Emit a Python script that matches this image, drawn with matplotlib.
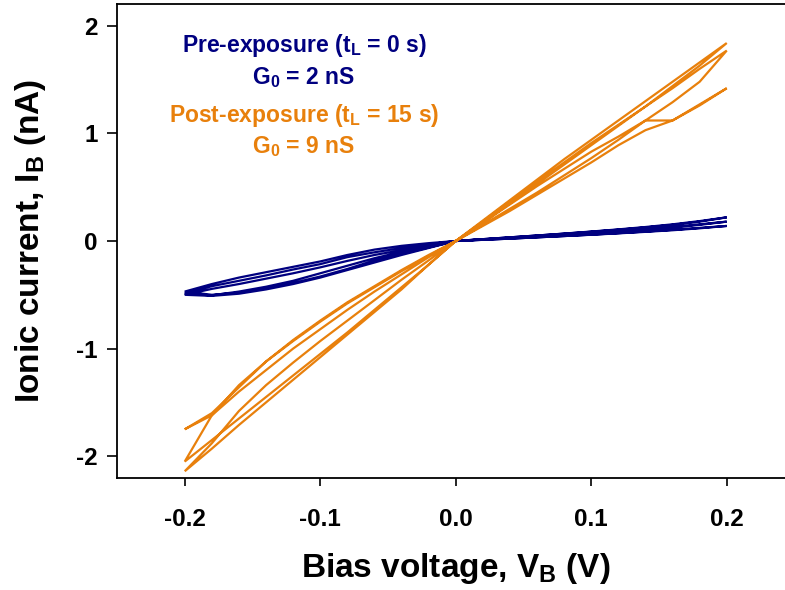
import matplotlib
matplotlib.use("Agg")
import matplotlib.pyplot as plt
import numpy as np

plt.rcParams['font.family'] = ['Liberation Sans', 'DejaVu Sans']
plt.rcParams['font.weight'] = 'bold'
plt.rcParams['mathtext.fontset'] = 'custom'
plt.rcParams['mathtext.rm'] = 'Liberation Sans:bold'
plt.rcParams['mathtext.it'] = 'Liberation Sans:bold'
plt.rcParams['mathtext.bf'] = 'Liberation Sans:bold'

# one voltage cycle: 0 -> 0.2 -> -0.2 -> 0 (V)
v_cycle = [0.00, 0.02, 0.04, 0.06, 0.08, 0.10, 0.12, 0.14, 0.16, 0.18, 0.20,
           0.18, 0.16, 0.14, 0.12, 0.10, 0.08, 0.06, 0.04, 0.02, 0.00,
           -0.02, -0.04, -0.06, -0.08, -0.10, -0.12, -0.14, -0.16, -0.18, -0.20,
           -0.18, -0.16, -0.14, -0.12, -0.10, -0.08, -0.06, -0.04, -0.02, 0.00]

# Pre-exposure currents (nA), three cycles
pre_cycle1 = [0.000, 0.011, 0.022, 0.034, 0.046, 0.058, 0.071, 0.085, 0.100, 0.118, 0.140,
              0.122, 0.104, 0.088, 0.073, 0.059, 0.046, 0.034, 0.022, 0.011, 0.000,
              -0.020, -0.045, -0.080, -0.130, -0.190, -0.240, -0.290, -0.340, -0.400, -0.470,
              -0.500, -0.480, -0.440, -0.390, -0.330, -0.260, -0.180, -0.120, -0.060, 0.000]
pre_cycle2 = [0.000, 0.014, 0.028, 0.042, 0.057, 0.072, 0.088, 0.105, 0.124, 0.150, 0.180,
              0.155, 0.130, 0.110, 0.092, 0.076, 0.060, 0.045, 0.030, 0.015, 0.000,
              -0.030, -0.065, -0.105, -0.150, -0.215, -0.265, -0.320, -0.370, -0.420, -0.490,
              -0.505, -0.470, -0.425, -0.370, -0.300, -0.230, -0.160, -0.100, -0.045, 0.000]
pre_cycle3 = [0.000, 0.017, 0.034, 0.051, 0.068, 0.086, 0.105, 0.126, 0.150, 0.180, 0.220,
              0.185, 0.155, 0.130, 0.108, 0.088, 0.069, 0.051, 0.034, 0.017, 0.000,
              -0.040, -0.085, -0.130, -0.185, -0.245, -0.300, -0.350, -0.400, -0.445, -0.500,
              -0.510, -0.490, -0.450, -0.400, -0.340, -0.270, -0.200, -0.130, -0.065, 0.000]

# Post-exposure currents (nA), three cycles
post_cycle1 = [0.00, 0.19, 0.38, 0.57, 0.76, 0.94, 1.12, 1.30, 1.48, 1.66, 1.84,
               1.63, 1.44, 1.25, 1.07, 0.89, 0.71, 0.53, 0.35, 0.17, 0.00,
               -0.14, -0.28, -0.43, -0.58, -0.75, -0.93, -1.12, -1.34, -1.62, -2.05,
               -1.85, -1.65, -1.45, -1.25, -1.05, -0.85, -0.64, -0.43, -0.22, 0.00]
post_cycle2 = [0.00, 0.15, 0.30, 0.45, 0.61, 0.77, 0.94, 1.12, 1.29, 1.48, 1.77,
               1.60, 1.42, 1.25, 1.08, 0.91, 0.73, 0.55, 0.37, 0.18, 0.00,
               -0.13, -0.27, -0.42, -0.57, -0.74, -0.92, -1.12, -1.36, -1.60, -1.75,
               -1.62, -1.40, -1.20, -1.00, -0.82, -0.64, -0.47, -0.31, -0.15, 0.00]
post_cycle3 = [0.00, 0.17, 0.34, 0.51, 0.67, 0.83, 0.97, 1.12, 1.12, 1.27, 1.42,
               1.26, 1.12, 1.03, 0.89, 0.73, 0.58, 0.43, 0.28, 0.14, 0.00,
               -0.18, -0.36, -0.55, -0.74, -0.93, -1.13, -1.34, -1.58, -1.88, -2.14,
               -1.93, -1.71, -1.50, -1.29, -1.08, -0.87, -0.66, -0.45, -0.22, 0.00]

pre_color = '#000080'
post_color = '#E8800C'

fig = plt.figure(figsize=(7.85, 5.90), dpi=100)
ax = fig.add_axes([117/785, 1 - 477.7/590, (794.5 - 117)/785, (477.7 - 4.3)/590])

voltage = np.array(v_cycle * 3)
pre = np.array(pre_cycle1 + pre_cycle2 + pre_cycle3)
post = np.array(post_cycle1 + post_cycle2 + post_cycle3)

ax.plot(voltage, pre, color=pre_color, lw=1.6, solid_joinstyle='miter')
ax.plot(voltage, post, color=post_color, lw=1.6, solid_joinstyle='miter')

ax.set_xlim(-0.25, 0.25)
ax.set_ylim(-2.2, 2.2)
ax.set_xticks([-0.2, -0.1, 0.0, 0.1, 0.2])
ax.set_xticklabels(['-0.2', '-0.1', '0.0', '0.1', '0.2'])
ax.set_yticks([-2, -1, 0, 1, 2])
ax.set_yticklabels(['-2', '-1', '0', '1', '2'])
ax.tick_params(axis='x', direction='out', length=6, width=1.2, labelsize=17.5, pad=16)
ax.tick_params(axis='y', direction='out', length=7, width=1.2, labelsize=17.5, pad=7)
ax.tick_params(top=False, right=False)
for s in ['left', 'bottom', 'top', 'right']:
    ax.spines[s].set_linewidth(1.3)

ax.set_xlabel('Bias voltage, V$_\\mathrm{B}$ (V)', fontsize=24, fontweight='bold', labelpad=14)
ax.set_ylabel('Ionic current, I$_\\mathrm{B}$ (nA)', fontsize=24, fontweight='bold', labelpad=20)

tfs = 16.5
ax.text(-0.112, 1.82, 'Pre-exposure (t$_\\mathrm{L}$ = 0 s)', color=pre_color, fontsize=tfs,
        fontweight='bold', ha='center', va='center')
ax.text(-0.112, 1.52, 'G$_\\mathrm{0}$ = 2 nS', color=pre_color, fontsize=tfs,
        fontweight='bold', ha='center', va='center')
ax.text(-0.112, 1.17, 'Post-exposure (t$_\\mathrm{L}$ = 15 s)', color=post_color, fontsize=tfs,
        fontweight='bold', ha='center', va='center')
ax.text(-0.112, 0.88, 'G$_\\mathrm{0}$ = 9 nS', color=post_color, fontsize=tfs,
        fontweight='bold', ha='center', va='center')

fig.savefig('out.png', dpi=100)
